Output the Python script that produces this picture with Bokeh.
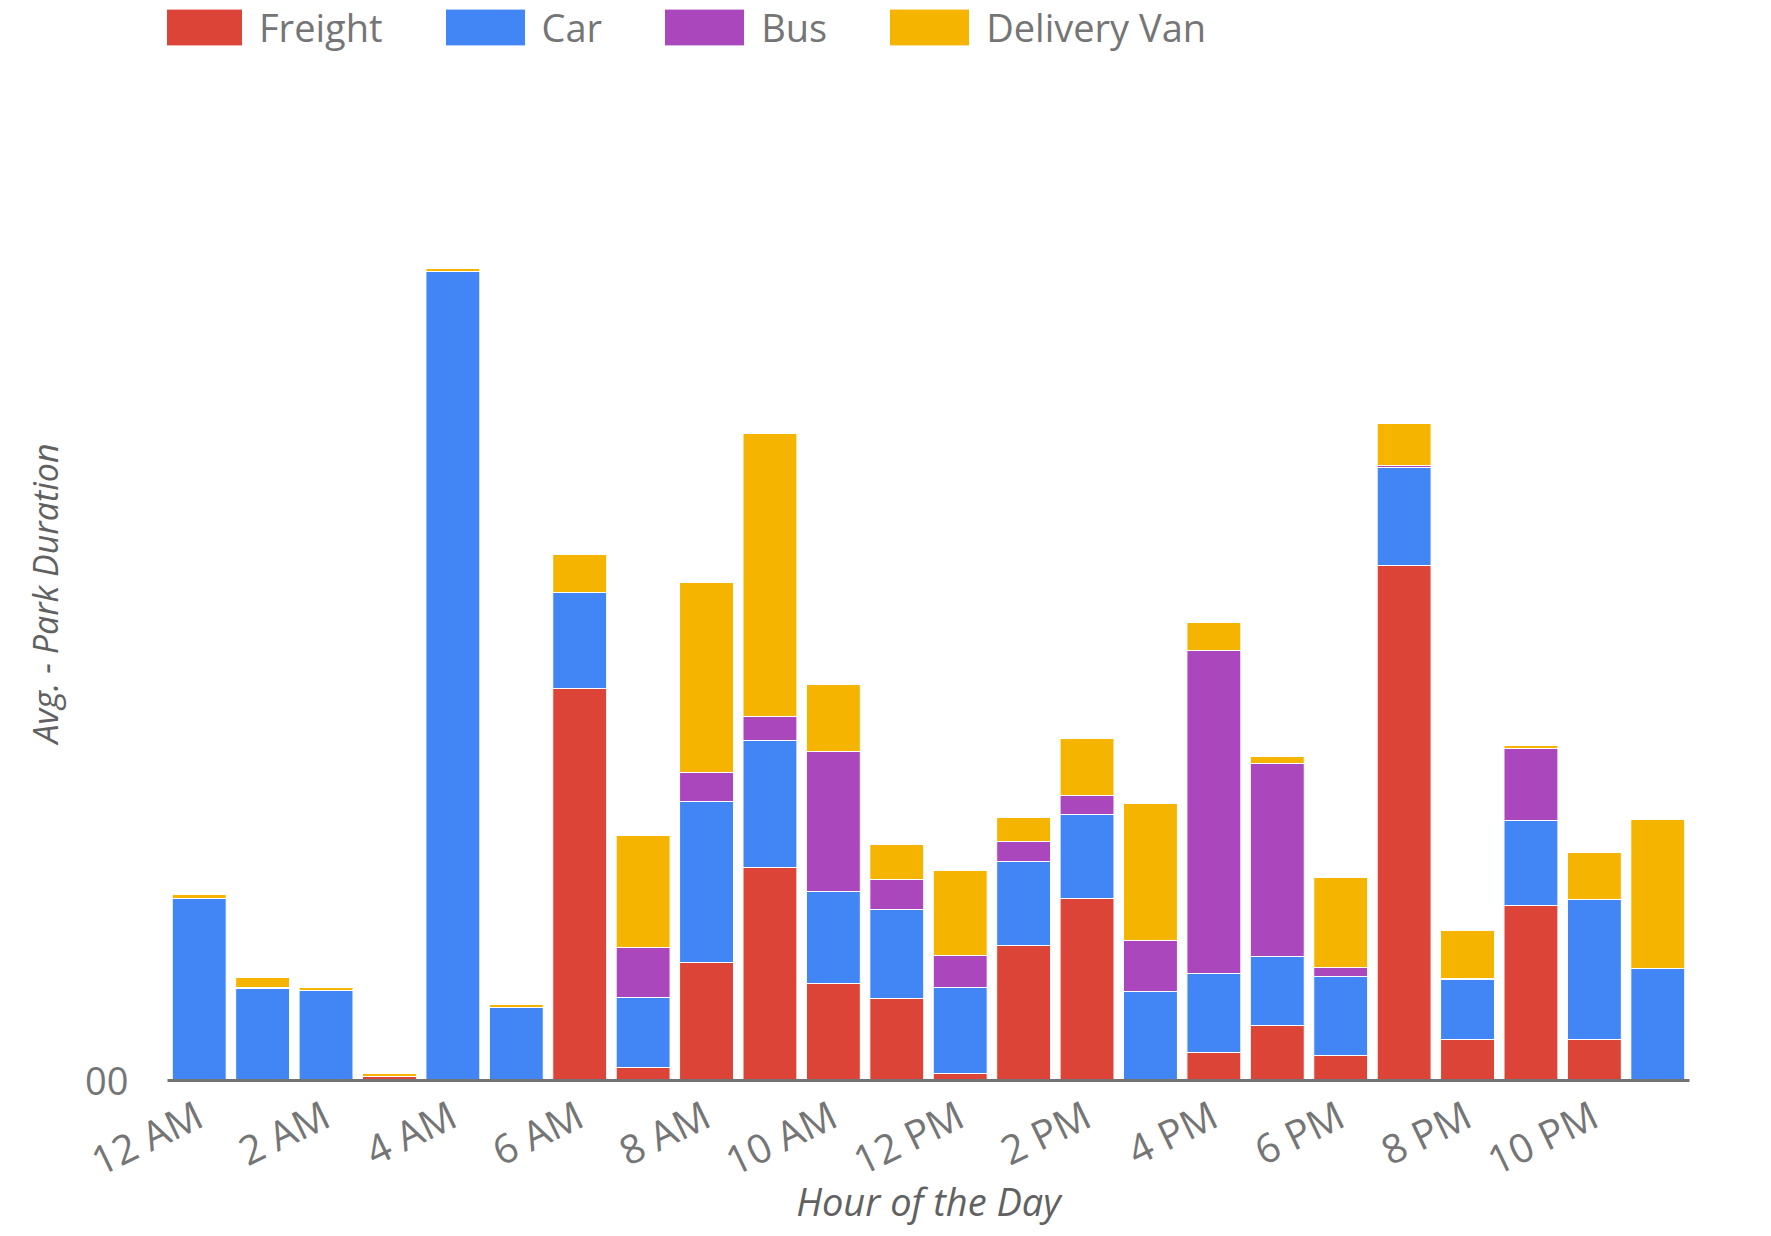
import math
from bokeh.plotting import figure
from bokeh.models import ColumnDataSource, Legend, LegendItem, FixedTicker, Range1d, Title
from bokeh.embed import file_html
from bokeh.resources import INLINE

hours = ["12 AM", "1 AM", "2 AM", "3 AM", "4 AM", "5 AM", "6 AM", "7 AM", "8 AM", "9 AM",
         "10 AM", "11 AM", "12 PM", "1 PM", "2 PM", "3 PM", "4 PM", "5 PM", "6 PM", "7 PM",
         "8 PM", "9 PM", "10 PM", "11 PM"]
series = ["Freight", "Car", "Bus", "Delivery Van"]
colors = ["#DB4437", "#4285F4", "#AB47BC", "#F4B400"]

freight = [0, 0, 0, 0.4, 0, 0, 39.2, 1.3, 11.8, 21.3, 9.7, 8.2, 0.7, 13.5, 18.2, 0, 2.8, 5.5, 2.5, 51.5, 4.1, 17.5, 4.1, 0]
car = [18.2, 9.2, 9.0, 0, 80.9, 7.3, 9.6, 7.0, 16.1, 12.7, 9.2, 8.9, 8.6, 8.4, 8.4, 8.9, 7.9, 6.9, 7.9, 9.8, 6.0, 8.5, 14.0, 11.2]
bus = [0, 0.1, 0, 0, 0, 0, 0, 5.0, 2.9, 2.4, 14.0, 3.0, 3.2, 2.0, 1.9, 5.1, 32.3, 19.3, 0.9, 0.2, 0.1, 7.2, 0, 0]
van = [0.4, 1.0, 0.3, 0.3, 0.3, 0.3, 3.8, 11.2, 19.0, 28.3, 6.7, 3.5, 8.5, 2.4, 5.7, 13.7, 2.8, 0.7, 9.0, 4.2, 4.8, 0.3, 4.7, 14.9]

FONT = "Open Sans"

src = ColumnDataSource(dict(x=list(range(len(hours))), Freight=freight, Car=car, Bus=bus, **{"Delivery Van": van}))

p = figure(width=1771, height=1236, output_backend="svg", toolbar_location=None,
           x_range=Range1d(-0.5, 23.5), y_range=Range1d(0, 108.0),
           min_border_left=167, min_border_right=82, min_border_top=0, min_border_bottom=156)
p.outline_line_color = None
p.xgrid.grid_line_color = None
p.ygrid.grid_line_color = None
p.background_fill_color = "white"
p.border_fill_color = "white"

renderers = p.vbar_stack(series, x="x", width=0.85, source=src, fill_color=colors,
                         line_color="white", line_width=1)

legend = Legend(items=[LegendItem(label=s, renderers=[r]) for s, r in zip(series, renderers)],
                orientation="horizontal", location=(-15, 1027))
legend.glyph_width = 100
legend.glyph_height = 46
legend.label_standoff = 7
legend.spacing = 52
legend.padding = 0
legend.margin = 0
legend.border_line_color = None
legend.background_fill_alpha = 0
legend.label_text_font = FONT
legend.label_text_font_size = "38px"
legend.label_text_color = "#757575"
p.add_layout(legend, "center")

xa = p.xaxis[0]
xa.ticker = FixedTicker(ticks=list(range(0, 24, 2)))
xa.major_label_overrides = {i: hours[i] for i in range(0, 24, 2)}
xa.major_label_orientation = 0.45
xa.major_label_text_font = FONT
xa.major_label_text_font_size = "40px"
xa.major_label_text_color = "#757575"
xa.major_tick_line_color = None
xa.minor_tick_line_color = None
xa.axis_line_color = "#737373"
xa.axis_line_width = 3
xa.major_label_standoff = 25
xa.axis_label = "Hour of the Day"
xa.axis_label_text_font = FONT
xa.axis_label_text_font_style = "italic"
xa.axis_label_text_font_size = "38px"
xa.axis_label_text_color = "#616161"
xa.axis_label_standoff = -40

ya = p.yaxis[0]
ya.ticker = FixedTicker(ticks=[0])
ya.major_label_overrides = {0: "00"}
ya.major_label_text_font = FONT
ya.major_label_text_font_size = "38px"
ya.major_label_text_color = "#757575"
ya.major_tick_line_color = None
ya.minor_tick_line_color = None
ya.axis_line_color = None
ya.major_label_standoff = 33

ytitle = Title(text="Avg. - Park Duration", align="left", offset=337, standoff=29,
               text_font=FONT, text_font_style="italic", text_font_size="34px",
               text_color="#616161")
p.add_layout(ytitle, "left")

open("out.html", "w").write(file_html(p, INLINE))
